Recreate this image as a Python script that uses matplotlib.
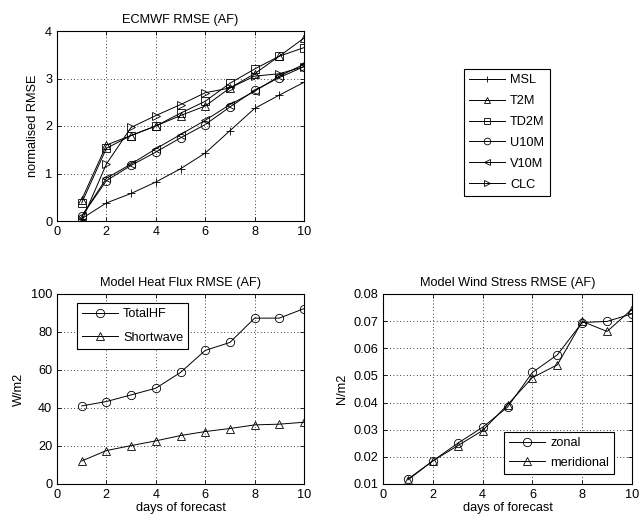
import matplotlib
matplotlib.use('Agg')
import matplotlib.pyplot as plt

plt.rcParams['font.family'] = ['Liberation Sans', 'DejaVu Sans']
plt.rcParams['font.size'] = 9.2

days = [1, 2, 3, 4, 5, 6, 7, 8, 9, 10]

# ECMWF normalised RMSE
msl = [0.05, 0.38, 0.58, 0.82, 1.10, 1.43, 1.90, 2.37, 2.65, 2.92]
t2m = [0.45, 1.60, 1.80, 2.00, 2.22, 2.42, 2.80, 3.10, 3.47, 3.85]
td2m = [0.38, 1.53, 1.80, 2.00, 2.27, 2.52, 2.90, 3.20, 3.47, 3.65]
u10m = [0.10, 0.85, 1.17, 1.45, 1.75, 2.03, 2.40, 2.75, 3.02, 3.25]
v10m = [0.10, 0.90, 1.20, 1.52, 1.82, 2.12, 2.45, 2.73, 3.05, 3.30]
clc = [0.00, 1.20, 1.97, 2.22, 2.45, 2.70, 2.80, 3.05, 3.10, 3.25]

# heat flux
total_hf = [41.1, 43.4, 46.9, 50.4, 58.7, 70.3, 74.5, 87.3, 87.3, 92.3]
shortwave = [12.1, 17.6, 20.2, 22.7, 25.5, 27.6, 29.2, 31.1, 31.5, 32.5]

# wind stress
zonal = [0.0118, 0.0185, 0.0250, 0.0309, 0.0383, 0.0511, 0.0576, 0.0695, 0.0699, 0.0727]
meridional = [0.0115, 0.0185, 0.0241, 0.0297, 0.0392, 0.0492, 0.0539, 0.0699, 0.0662, 0.0744]


def matlab_style(ax):
    ax.grid(True, linestyle=(0, (1, 3)), color='k', linewidth=0.6)
    ax.tick_params(direction='in', top=True, right=True, length=3, width=0.6)
    for s in ax.spines.values():
        s.set_linewidth(0.8)


fig = plt.figure(figsize=(6.39, 5.17), dpi=100)

ax1 = fig.add_axes([57/639, 1-221/517, 247/639, 190/517])
kw = dict(color='k', linewidth=0.7, markerfacecolor='none', markeredgecolor='k',
          markeredgewidth=0.6, markersize=6)
h = []
h += ax1.plot(days, msl, marker='+', label='MSL', **kw)
h += ax1.plot(days, t2m, marker='^', label='T2M', **kw)
h += ax1.plot(days, td2m, marker='s', label='TD2M', **kw)
h += ax1.plot(days, u10m, marker='o', label='U10M', **kw)
h += ax1.plot(days, v10m, marker='<', label='V10M', **kw)
h += ax1.plot(days, clc, marker='>', label='CLC', **kw)
ax1.set_xlim(0, 10)
ax1.set_ylim(0, 4)
ax1.set_xticks([0, 2, 4, 6, 8, 10])
ax1.set_yticks([0, 1, 2, 3, 4])
ax1.set_title('ECMWF RMSE (AF)', fontsize=9.2)
ax1.set_ylabel('normalised RMSE')
matlab_style(ax1)
kw_leg = dict(fancybox=False, edgecolor='k', framealpha=1, numpoints=1,
              handlelength=2.8, handletextpad=0.4, borderpad=0.4, borderaxespad=0)
leg = fig.legend(handles=h, loc='upper left', bbox_to_anchor=(464/639, 1-69/517),
                 labelspacing=0.7, markerscale=0.8, **kw_leg)
leg.get_frame().set_linewidth(0.8)

ax2 = fig.add_axes([57/639, 1-484/517, 247/639, 190/517])
ax2.plot(days, total_hf, marker='o', label='TotalHF', **kw)
ax2.plot(days, shortwave, marker='^', label='Shortwave', **kw)
ax2.set_xlim(0, 10)
ax2.set_ylim(0, 100)
ax2.set_xticks([0, 2, 4, 6, 8, 10])
ax2.set_yticks([0, 20, 40, 60, 80, 100])
ax2.set_title('Model Heat Flux RMSE (AF)', fontsize=9.2)
ax2.set_ylabel('W/m2')
ax2.set_xlabel('days of forecast', labelpad=1)
matlab_style(ax2)
leg2 = ax2.legend(loc='upper left', bbox_to_anchor=(0.081, 0.953),
                  labelspacing=0.9, **kw_leg)
leg2.get_frame().set_linewidth(0.8)

ax3 = fig.add_axes([383/639, 1-484/517, 249/639, 190/517])
ax3.plot(days, zonal, marker='o', label='zonal', **kw)
ax3.plot(days, meridional, marker='^', label='meridional', **kw)
ax3.set_xlim(0, 10)
ax3.set_ylim(0.01, 0.08)
ax3.set_xticks([0, 2, 4, 6, 8, 10])
ax3.set_yticks([0.01, 0.02, 0.03, 0.04, 0.05, 0.06, 0.07, 0.08])
ax3.set_title('Model Wind Stress RMSE (AF)', fontsize=9.2)
ax3.set_ylabel('N/m2')
ax3.set_xlabel('days of forecast', labelpad=1)
matlab_style(ax3)
leg3 = ax3.legend(loc='lower right', bbox_to_anchor=(0.928, 0.053),
                  labelspacing=0.6, **kw_leg)
leg3.get_frame().set_linewidth(0.8)

plt.savefig('out.png', dpi=100)
